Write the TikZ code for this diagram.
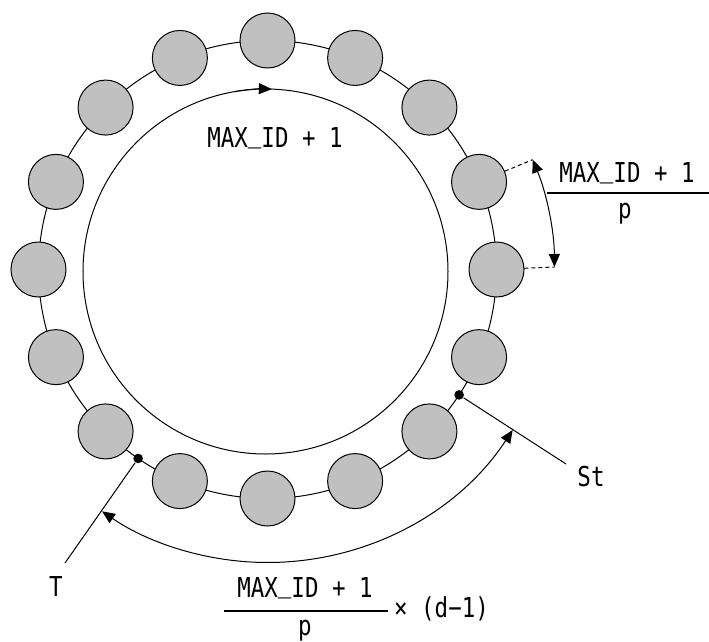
\documentclass[tikz,border=0pt]{standalone}
\usepackage{fontspec}
\newfontfamily\gfont{DejaVu Sans Mono}[FakeStretch=0.82]
\usetikzlibrary{arrows.meta}
\definecolor{ballgray}{RGB}{192,192,192}
\newcommand{\us}{\raisebox{0.17em}{\_}}
\begin{document}
\begin{tikzpicture}[x=1pt,y=1pt,line width=1pt,
  ball/.style={circle,draw,fill=ballgray,minimum size=55pt,inner sep=0pt},
  dotn/.style={circle,fill=black,minimum size=9.6pt,inner sep=0pt},
  lbl/.style={font=\gfont\fontsize{27.4}{30}\selectfont,inner sep=0pt},
  tipend/.style={-{Triangle[length=13pt,width=11pt]}},
  dbl/.style={{Triangle[length=13pt,width=11pt]}-{Triangle[length=13pt,width=11pt]}},
  frac/.style={line width=2.5pt}
]
\useasboundingbox (-267.5,-371.5) rectangle (441.5,269.5);

% ring and inner circle
\draw (0,0) circle (229);
\draw (-2,-2) circle (182.5);
\draw[tipend] ([shift={(-2,-2)}]100:182.5) arc[start angle=100,end angle=88,radius=182.5];

% balls
\foreach \i in {0,...,15} { \node[ball] (b\i) at ({90-22.5*\i}:229) {}; }

% right measure
\coordinate (r1) at (22.5:287);
\coordinate (r2) at (0.5:287);
\draw[dashed,dash pattern=on 4pt off 3pt] (b3) -- (r1);
\draw[dashed,dash pattern=on 4pt off 3pt] (b4) -- (r2);
\draw[dbl] (r1) arc[start angle=22.5,end angle=0.5,radius=287];

% bottom measure
\coordinate (s1) at (-33.2:293);
\draw[dbl] (s1) arc[start angle=-33.2,end angle=-124.4,radius=293];

% dots and leaders
\node[dotn] (dS) at (-33.2:229) {};
\node[dotn] (dT) at (-124.4:229) {};
\coordinate (eS) at (298.5,-194.5);
\coordinate (eT) at (-202.5,-293.5);
\draw (dS) -- (eS);
\draw (dT) -- (eT);

% labels
\node[lbl,anchor=base] (top) at (7.5,122.5) {MAX\us ID + 1};
\node[lbl,anchor=base] (rn) at (359.5,87.5) {MAX\us ID + 1};
\coordinate (rl1) at (279.5,76.5);
\coordinate (rl2) at (441.5,76.5);
\draw[frac] (rl1) -- (rl2);
\node[lbl] (rp) at (357.5,55.5) {p};

\node[lbl,anchor=base] (bn) at (37.5,-327.5) {MAX\us ID + 1};
\coordinate (bl1) at (-43.5,-341.5);
\coordinate (bl2) at (120.5,-341.5);
\draw[frac] (bl1) -- (bl2);
\node[lbl] (bp) at (37.5,-361) {p};
\node[lbl,anchor=base] (bx) at (174,-347.5) {× (d−1)};

\node[lbl,anchor=base] (lT) at (-211.5,-326.5) {T};
\node[lbl,anchor=base] (lS) at (323.5,-216.5) {St};
\end{tikzpicture}
\end{document}
